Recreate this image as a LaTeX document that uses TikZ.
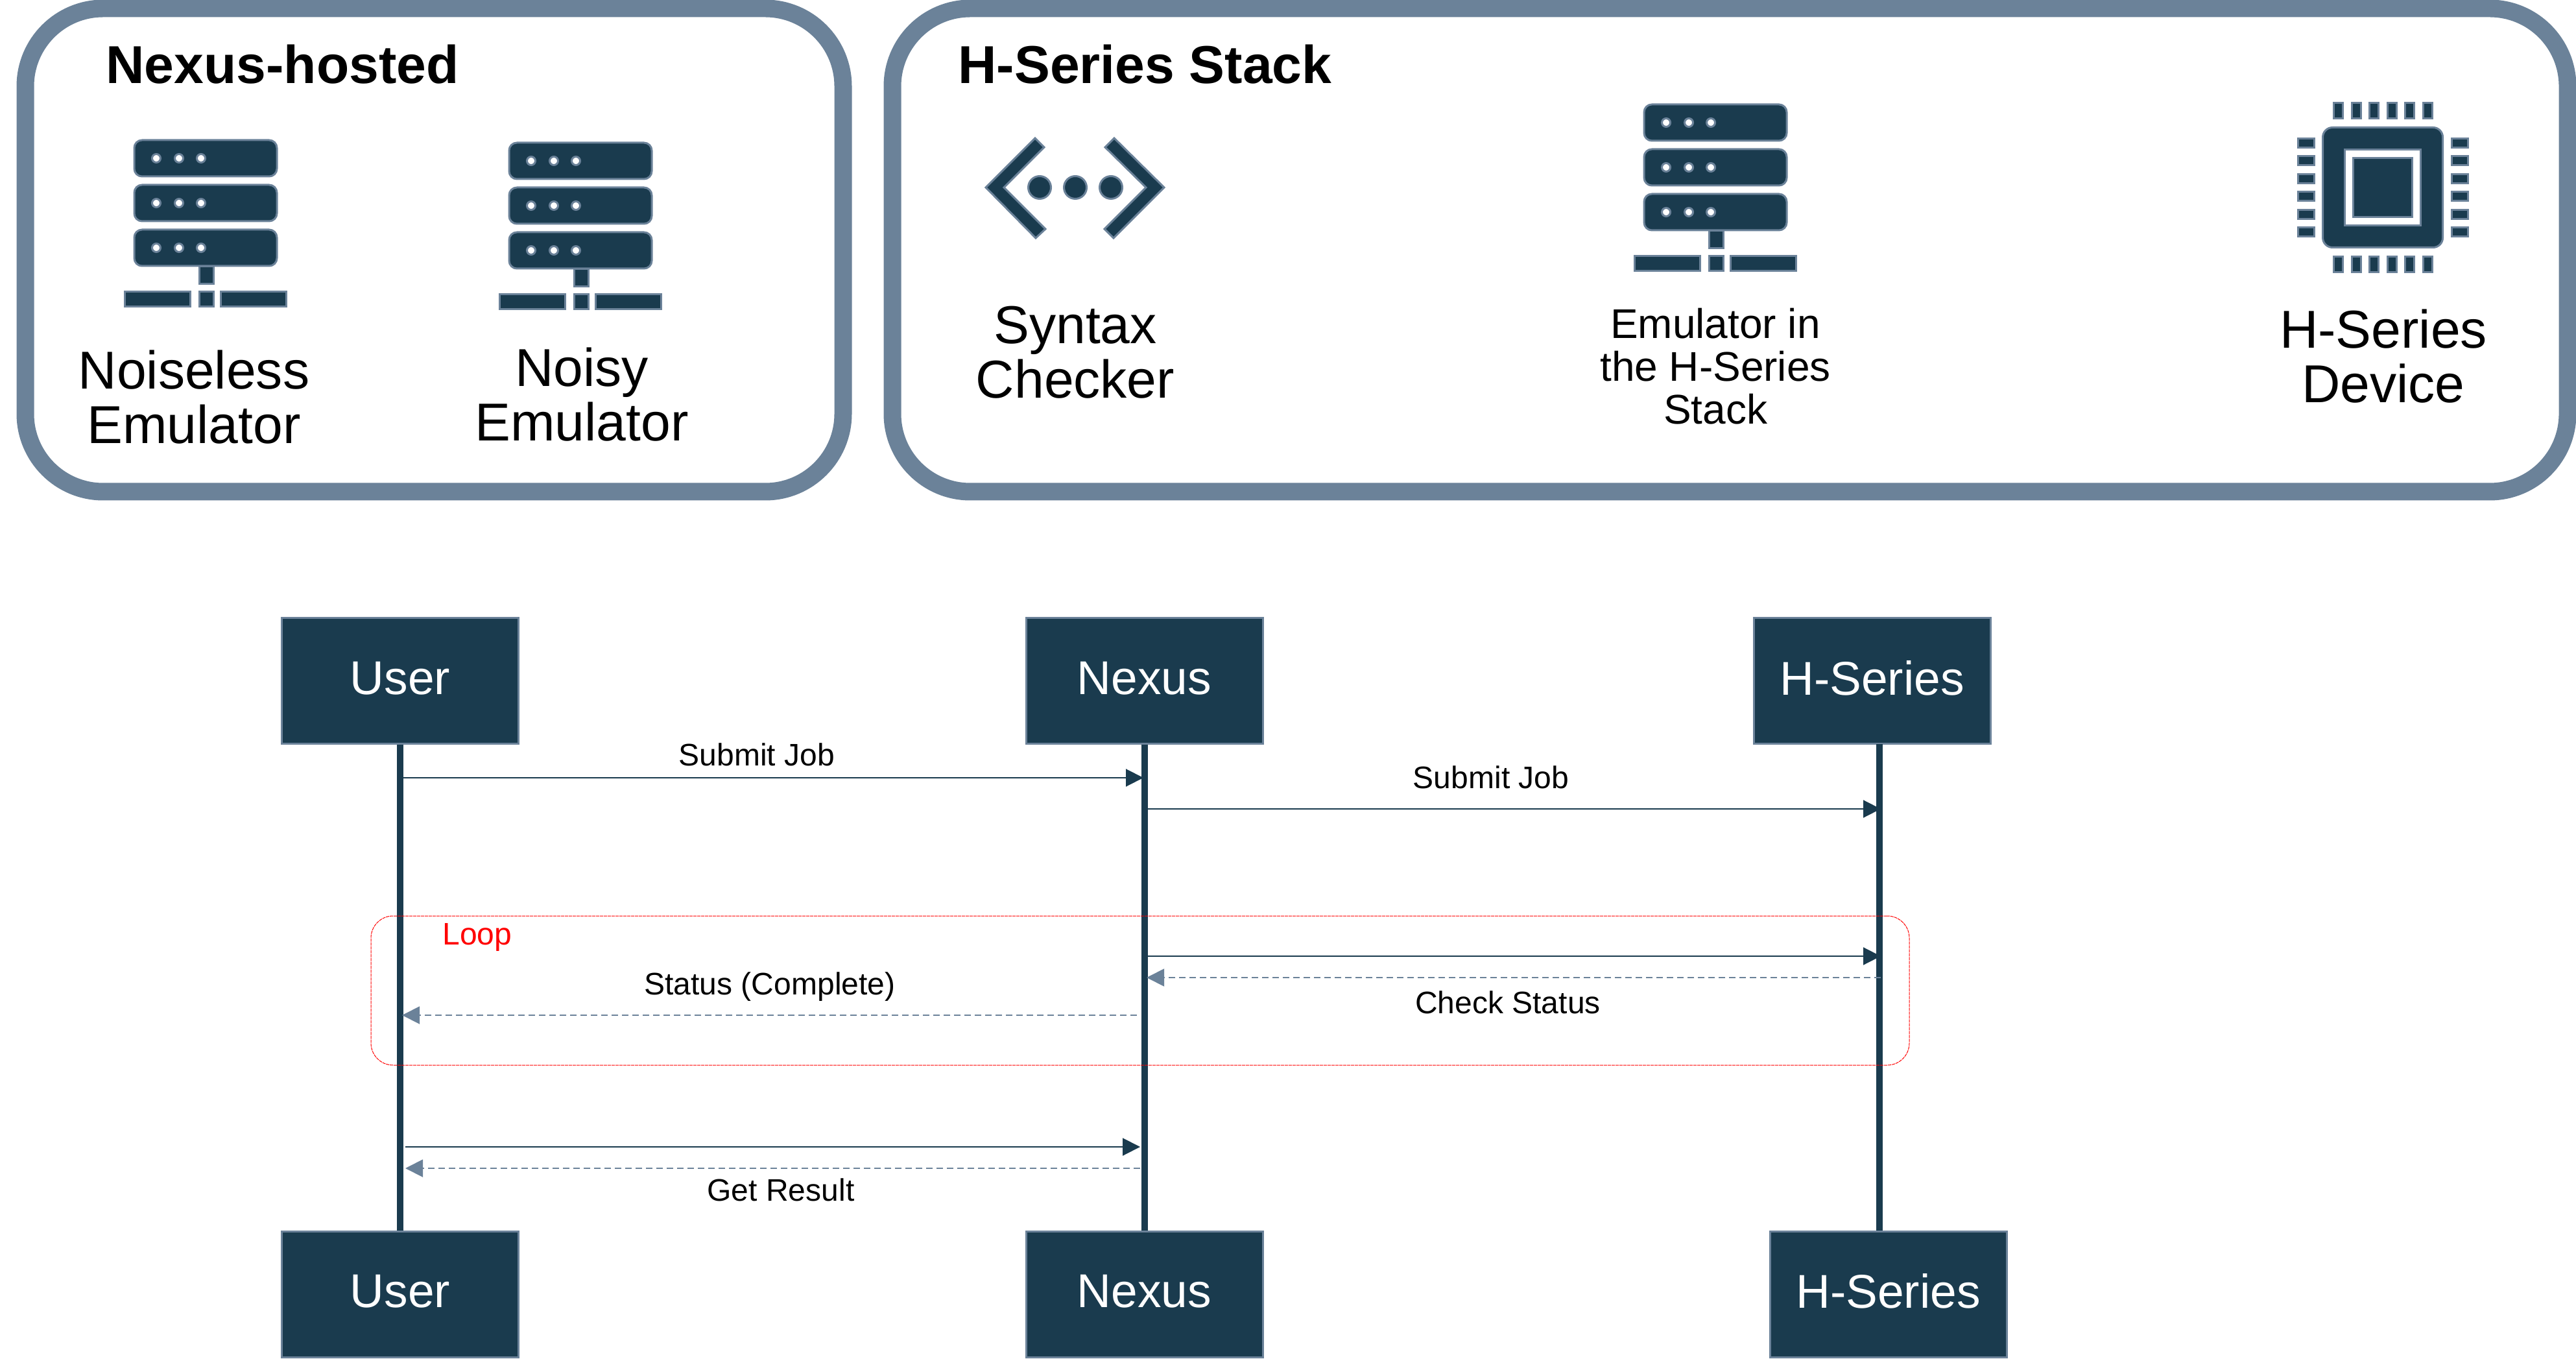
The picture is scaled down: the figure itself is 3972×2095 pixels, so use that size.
\documentclass[tikz,border=0pt]{standalone}
\usepackage{fontspec}
\setmainfont{Liberation Sans}
\usetikzlibrary{arrows.meta,positioning}
\definecolor{navy}{HTML}{1A3B4E}
\definecolor{slate}{HTML}{6B8299}
\newcommand{\fsz}[2]{\fontsize{#1}{#2}\selectfont}

\begin{document}
\begin{tikzpicture}[
  x=0.1mm, y=-0.1mm,
  panel/.style={draw=slate, line width=2.7mm, rounded corners=12mm, inner sep=0pt},
  title/.style={font=\fsz{23.4}{26}\bfseries},
  caption/.style={align=center, font=\fsz{23.4}{23.9}},
  smallcap/.style={align=center, font=\fsz{18.2}{18.8}},
  actor/.style={draw=slate, fill=navy, line width=0.3mm, text=white, font=\fsz{20.8}{24},
    minimum width=36.5mm, minimum height=19.4mm, inner sep=0pt, text depth=1mm},
  lifeline/.style={draw=navy, line width=1mm},
  msg/.style={draw=navy, line width=0.2mm, -{Triangle[length=2.7mm,width=2.7mm]}},
  reply/.style={draw=slate, line width=0.2mm, dash pattern=on 1mm off 0.6mm,
    -{Triangle[length=2.7mm,width=2.7mm]}},
  label/.style={font=\fsz{13.66}{16}},
  loopbox/.style={draw=red, line width=0.1mm, dash pattern=on 0.5mm off 0.1mm,
    rounded corners=3.4mm, inner sep=0pt},
  part/.style={draw=slate, fill=navy, line width=0.3mm},
  hole/.style={draw=slate, fill=white, line width=0.3mm},
  pics/server/.style={code={
    \foreach \y in {0,69,138} {
      \draw[part, rounded corners=1.2mm] (16,\y+1) rectangle (236,\y+57);
      \foreach \x in {50,85,119}
        \draw[hole] (\x,\y+29) circle (0.65mm);
    }
    \draw[part] (116,196) rectangle (138,223);
    \draw[part] (1,235) rectangle (102,258);
    \draw[part] (116,235) rectangle (138,258);
    \draw[part] (149,235) rectangle (250,258);
  }},
]
\useasboundingbox (0,0) rectangle (3972,2095);

% upper panels
\node[panel, minimum width=126.1cm/10, minimum height=74.5cm/10] (hosted) at (669.5,385.5) {};
\node[panel, minimum width=258.3cm/10, minimum height=74.5cm/10] (stack) at (2667.5,385.5) {};
\node[title] (hostedtitle) at (435.5,99) {Nexus-hosted};
\node[title] (stacktitle) at (1765.5,99) {H-Series Stack};

\pic at (191,215) {server};
\pic at (769,219) {server};
\pic at (2519,160) {server};

\draw[part] (1520,289) -- (1596,213) -- (1610,227) -- (1548,289) -- (1612,353) -- (1597,367) -- cycle;
\draw[part] (1795,289) -- (1718,213) -- (1704,227) -- (1767,289) -- (1703,353) -- (1717,367) -- cycle;
\foreach \x in {1603,1658,1713}
  \draw[part] (\x,289) circle (1.75mm);

\foreach \i in {0,...,5} {
  \draw[part] (3598.5+27.5*\i,158.5) rectangle (3612.5+27.5*\i,183);
  \draw[part] (3598.5+27.5*\i,395.5) rectangle (3612.5+27.5*\i,420);
  \draw[part] (3543.5,213.5+27.5*\i) rectangle (3568,227.5+27.5*\i);
  \draw[part] (3780.5,213.5+27.5*\i) rectangle (3805,227.5+27.5*\i);
}
\draw[part, rounded corners=1.5mm] (3581.5,196.5) rectangle (3766.5,381.5);
\draw[hole] (3615.5,230.5) rectangle (3732.5,347.5);
\draw[part] (3628.5,243.5) rectangle (3719.5,334.5);

\node[caption] (noiseless) at (299,612) {Noiseless\\Emulator};
\node[caption] (noisy) at (897,608) {Noisy\\Emulator};
\node[caption] (syntax) at (1658,543) {Syntax\\Checker};
\node[smallcap] (stackemu) at (2645,565) {Emulator in\\the H-Series\\Stack};
\node[caption] (device) at (3675,549) {H-Series\\Device};

% sequence diagram
\node[actor] (usertop) at (617,1050) {User};
\node[actor] (nexustop) at (1764.5,1050) {Nexus};
\node[actor] (hseriestop) at (2886.5,1050) {H-Series};
\node[actor] (userbot) at (617,1995) {User};
\node[actor] (nexusbot) at (1764.5,1995) {Nexus};
\node[actor] (hseriesbot) at (2911.5,1995) {H-Series};

\coordinate (hslinetop) at (2898,1147);
\coordinate (hslinebot) at (2898,1897);
\draw[lifeline] (usertop.south) -- (userbot.north);
\draw[lifeline] (nexustop.south) -- (nexusbot.north);
\draw[lifeline] (hslinetop) -- (hslinebot);

\coordinate (sub1a) at (622,1199);
\coordinate (sub1b) at (1763,1199);
\coordinate (sub2a) at (1769,1247);
\coordinate (sub2b) at (2900,1247);
\coordinate (chka) at (1769,1474);
\coordinate (chkb) at (2900,1474);
\coordinate (cmpa) at (2900,1507);
\coordinate (cmpb) at (1768,1507);
\coordinate (stsa) at (1753,1565);
\coordinate (stsb) at (620,1565);
\coordinate (geta) at (625,1768);
\coordinate (getb) at (1758,1768);
\coordinate (resa) at (1758,1801);
\coordinate (resb) at (625,1801);

\draw[msg] (sub1a) -- (sub1b);
\draw[msg] (sub2a) -- (sub2b);
\draw[msg] (chka) -- (chkb);
\draw[reply] (cmpa) -- (cmpb);
\draw[reply] (stsa) -- (stsb);
\draw[msg] (geta) -- (getb);
\draw[reply] (resa) -- (resb);

\node[loopbox, minimum width=237.2mm, minimum height=23mm] (loopframe) at (1758,1527) {};
\node[label, text=red] (looplabel) at (736,1445) {Loop};

\node[label] (submit1) at (1167,1163) {Submit Job};
\node[label] (submit2) at (2299,1198) {Submit Job};
\node[label] (status) at (1187,1521) {Status (Complete)};
\node[label] (check) at (2325,1545) {Check Status};
\node[label] (result) at (1204,1834) {Get Result};
\end{tikzpicture}
\end{document}
